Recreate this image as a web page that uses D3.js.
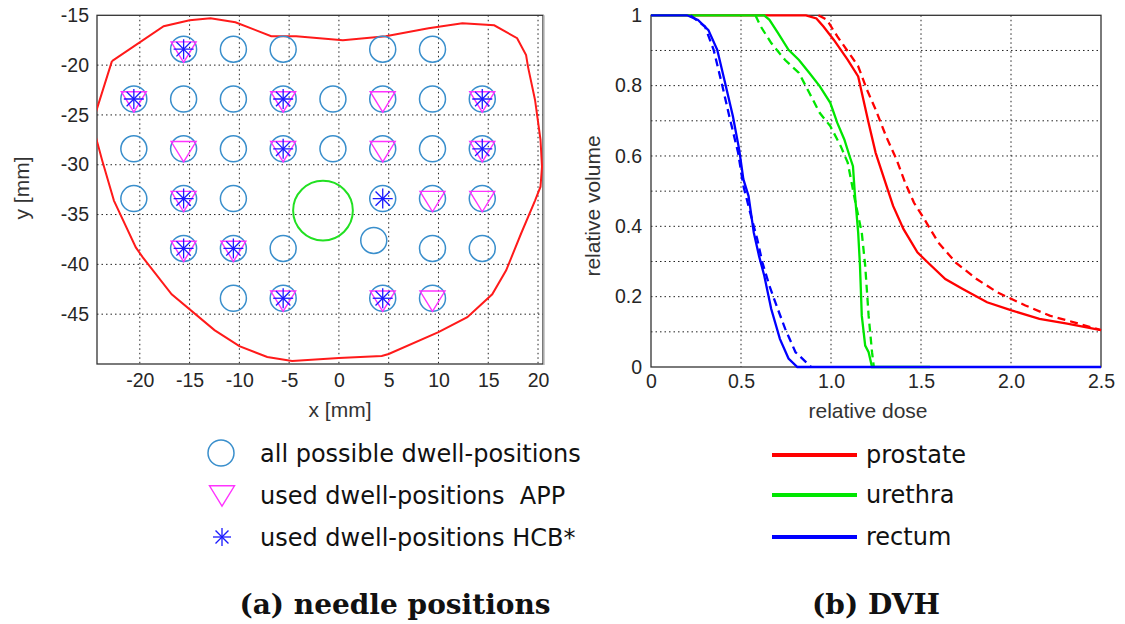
<!DOCTYPE html>
<html>
<head>
<meta charset="utf-8">
<script src="https://cdn.jsdelivr.net/npm/d3@7"></script>
<style>
  body { margin: 0; background: #fff; }
  .tick text { font-family: "Liberation Sans", Arial, sans-serif; font-size: 19.5px; fill: #262626; }
  .axlabel { font-family: "Liberation Sans", Arial, sans-serif; font-size: 21px; fill: #333; }
  .legtext { font-family: "DejaVu Sans", sans-serif; font-size: 24px; fill: #111; }
  .caption { font-family: "DejaVu Serif", serif; font-size: 28px; font-weight: bold; fill: #111; }
</style>
</head>
<body>
<div id="main"></div>
<script>
// ---- data: needle positions (mm) ----
const allPositions = [
  [-15.6,-18.4],[-10.6,-18.4],[-5.6,-18.4],[4.4,-18.4],[9.4,-18.4],
  [-20.6,-23.4],[-15.6,-23.4],[-10.6,-23.4],[-5.6,-23.4],[-0.6,-23.4],[4.4,-23.4],[9.4,-23.4],[14.4,-23.4],
  [-20.6,-28.4],[-15.6,-28.4],[-10.6,-28.4],[-5.6,-28.4],[-0.6,-28.4],[4.4,-28.4],[9.4,-28.4],[14.4,-28.4],
  [-20.6,-33.4],[-15.6,-33.4],[-10.6,-33.4],[4.4,-33.4],[9.4,-33.4],[14.4,-33.4],
  [-15.6,-38.4],[-10.6,-38.4],[-5.6,-38.4],[3.5,-37.6],[9.4,-38.4],[14.4,-38.4],
  [-10.6,-43.4],[-5.6,-43.4],[4.4,-43.4],[9.4,-43.4]
];
const appPositions = [
  [-15.6,-18.4],[-20.6,-23.4],[-5.6,-23.4],[4.4,-23.4],[14.4,-23.4],
  [-15.6,-28.4],[-5.6,-28.4],[4.4,-28.4],[14.4,-28.4],
  [-15.6,-33.4],[9.4,-33.4],[14.4,-33.4],
  [-15.6,-38.4],[-10.6,-38.4],
  [-5.6,-43.4],[4.4,-43.4],[9.4,-43.4]
];
const hcbPositions = [
  [-15.6,-18.4],[-20.6,-23.4],[-5.6,-23.4],[14.4,-23.4],
  [-5.6,-28.4],[14.4,-28.4],
  [-15.6,-33.4],[4.4,-33.4],
  [-15.6,-38.4],[-10.6,-38.4],
  [-5.6,-43.4],[4.4,-43.4]
];
// urethra cross-section: centre and radius (mm)
const urethraCircle = {x: -1.6, y: -34.6, r: 3.0};
// prostate contour (mm)
const prostateContour = [
  [-22.8,-19.6],[-17.6,-16.1],[-15.0,-15.5],[-12.9,-15.3],[-10.4,-15.7],[-6.8,-17.1],[-4.3,-17.1],
  [0.4,-17.5],[4.7,-17.1],[9.0,-16.3],[12.4,-15.8],[15.6,-16.0],[17.9,-17.3],[18.8,-19.0],[19.0,-20.2],
  [19.7,-23.5],[20.25,-27.5],[20.4,-30.2],[20.25,-32.2],[19.7,-33.6],[18.3,-36.9],[16.8,-40.6],
  [15.4,-43.0],[12.9,-45.3],[10.0,-46.8],[5.0,-49.0],[4.3,-49.2],[0.0,-49.4],[-4.7,-49.7],
  [-7.2,-49.3],[-10.0,-48.2],[-12.5,-46.6],[-16.8,-43.0],[-19.7,-39.3],[-20.4,-38.3],[-22.6,-33.6],
  [-23.8,-29.5],[-24.5,-26.9],[-24.5,-25.0],[-22.8,-19.6]
];
const needleXTicks = [-20,-15,-10,-5,0,5,10,15,20];
const needleYTicks = [-45,-40,-35,-30,-25,-20,-15];

// ---- data: DVH (relative dose, relative volume) ----
const prostateSolid = [
  [0,1],[0.861,1],[0.919,0.991],[0.958,0.968],[1.016,0.930],[1.093,0.873],[1.151,0.826],[1.180,0.760],
  [1.209,0.694],[1.248,0.609],[1.296,0.534],[1.345,0.458],[1.403,0.392],[1.480,0.326],[1.538,0.297],
  [1.635,0.250],[1.732,0.222],[1.867,0.184],[2.003,0.161],[2.158,0.137],[2.312,0.123],[2.5,0.105]
];
const prostateDashed = [
  [0.93,1],[0.977,0.987],[1.035,0.940],[1.113,0.883],[1.151,0.855],[1.200,0.788],[1.248,0.732],
  [1.306,0.656],[1.364,0.590],[1.412,0.524],[1.461,0.467],[1.519,0.420],[1.596,0.354],[1.693,0.297],
  [1.809,0.250],[1.925,0.212],[2.080,0.175],[2.215,0.146],[2.350,0.127],[2.5,0.105]
];
const urethraSolid = [
  [0,1],[0.629,1],[0.658,0.987],[0.706,0.949],[0.764,0.902],[0.822,0.873],[0.880,0.836],[0.938,0.798],
  [0.996,0.751],[1.035,0.694],[1.074,0.647],[1.103,0.600],[1.122,0.571],[1.132,0.496],[1.151,0.382],
  [1.161,0.288],[1.171,0.146],[1.190,0.061],[1.209,0.042],[1.228,0],[1.55,0]
];
const urethraDashed = [
  [0.58,1],[0.610,0.968],[0.668,0.921],[0.745,0.873],[0.822,0.836],[0.880,0.779],[0.938,0.722],
  [0.996,0.685],[1.054,0.628],[1.093,0.581],[1.132,0.477],[1.171,0.382],[1.190,0.288],[1.209,0.146],
  [1.228,0.042],[1.238,0]
];
const rectumSolid = [
  [0,1],[0.2,1],[0.261,0.987],[0.319,0.958],[0.368,0.902],[0.416,0.798],[0.455,0.713],[0.490,0.618],
  [0.513,0.534],[0.542,0.486],[0.571,0.382],[0.600,0.316],[0.629,0.260],[0.668,0.165],[0.716,0.080],
  [0.764,0.024],[0.813,0],[2.5,0]
];
const rectumDashed = [
  [0.22,1],[0.30,0.968],[0.348,0.902],[0.397,0.798],[0.435,0.713],[0.484,0.609],[0.513,0.515],
  [0.551,0.439],[0.590,0.364],[0.619,0.297],[0.658,0.231],[0.697,0.175],[0.745,0.109],[0.803,0.042],
  [0.861,0.014],[0.890,0]
];
const dvhXTicks = [0,0.5,1.0,1.5,2.0,2.5];
const dvhXTickLabels = ["0","0.5","1.0","1.5","2.0","2.5"];
const dvhYTicks = [0,0.2,0.4,0.6,0.8,1];
const dvhYGrid = [0.1,0.2,0.3,0.4,0.5,0.6,0.7,0.8,0.9];

const structures = ["prostate","urethra","rectum"];
const structureColors = ["#ff0000","#00e600","#0000ff"];
const legendLabels = ["all possible dwell-positions","used dwell-positions\u00a0 APP","used dwell-positions HCB*"];

const ctx = {
  width: 1125,
  height: 624,
  left: {x0: 97, x1: 543, y0: 15.3, y1: 364},
  right: {x0: 651, x1: 1101, y0: 15.3, y1: 367},
  gridDash: "1.5,3",
  circleColor: "#3a8fcc",
  triColor: "#ff33ff",
  starColor: "#1a1aff"
};

const svg = d3.select("#main").append("svg")
  .attr("width", ctx.width)
  .attr("height", ctx.height);

function trianglePath(cx, cy, s) {
  // downward triangle, top edge above centre
  return `M${cx - s},${cy - 0.58 * s}L${cx + s},${cy - 0.58 * s}L${cx},${cy + 1.05 * s}Z`;
}

function drawStar(g, cx, cy, r) {
  const d = r * 0.72;
  const segs = [[0,-r,0,r],[-r,0,r,0],[-d,-d,d,d],[-d,d,d,-d]];
  segs.forEach(s => {
    g.append("line")
      .attr("x1", cx + s[0]).attr("y1", cy + s[1])
      .attr("x2", cx + s[2]).attr("y2", cy + s[3])
      .attr("stroke", ctx.starColor).attr("stroke-width", 1.3);
  });
}

function drawNeedlePlot() {
  const b = ctx.left;
  const x = d3.scaleLinear().domain([-24.3, 20.5]).range([b.x0, b.x1]);
  const y = d3.scaleLinear().domain([-50, -15]).range([b.y1, b.y0]);
  const g = svg.append("g");

  g.append("clipPath").attr("id", "clipL").append("rect")
    .attr("x", b.x0).attr("y", b.y0).attr("width", b.x1 - b.x0).attr("height", b.y1 - b.y0);

  // grid
  g.selectAll(".gx").data(needleXTicks).enter().append("line")
    .attr("x1", d => x(d)).attr("x2", d => x(d)).attr("y1", b.y0).attr("y2", b.y1)
    .attr("stroke", "#222").attr("stroke-dasharray", ctx.gridDash);
  g.selectAll(".gy").data(needleYTicks.filter(d => d > -50 && d < -15)).enter().append("line")
    .attr("y1", d => y(d)).attr("y2", d => y(d)).attr("x1", b.x0).attr("x2", b.x1)
    .attr("stroke", "#222").attr("stroke-dasharray", ctx.gridDash);

  // axes
  const xAxis = g.append("g").attr("transform", `translate(0,${b.y1})`)
    .call(d3.axisBottom(x).tickValues(needleXTicks).tickSize(0).tickPadding(9).tickFormat(d3.format("d")));
  const yAxis = g.append("g").attr("transform", `translate(${b.x0},0)`)
    .call(d3.axisLeft(y).tickValues(needleYTicks).tickSize(0).tickPadding(8).tickFormat(d3.format("d")));
  xAxis.select(".domain").remove();
  yAxis.select(".domain").remove();
  xAxis.selectAll("text").text(d => d < 0 ? "-" + Math.abs(d) : d);
  yAxis.selectAll("text").text(d => "-" + Math.abs(d));

  // frame
  g.append("rect").attr("x", b.x0).attr("y", b.y0).attr("width", b.x1 - b.x0).attr("height", b.y1 - b.y0)
    .attr("fill", "none").attr("stroke", "#333").attr("stroke-width", 1.3);
  g.append("line").attr("x1", b.x1 + 1).attr("x2", b.x1 + 1).attr("y1", b.y0).attr("y2", b.y1 + 1)
    .attr("stroke", "#bbb").attr("stroke-width", 1.5);

  const plot = g.append("g").attr("clip-path", "url(#clipL)");

  // prostate contour
  plot.append("path").datum(prostateContour)
    .attr("d", d3.line().x(d => x(d[0])).y(d => y(d[1])))
    .attr("fill", "none").attr("stroke", "#ff1a1a").attr("stroke-width", 2);

  // urethra
  plot.append("circle")
    .attr("cx", x(urethraCircle.x)).attr("cy", y(urethraCircle.y))
    .attr("r", x(urethraCircle.x + urethraCircle.r) - x(urethraCircle.x))
    .attr("fill", "none").attr("stroke", "#22e022").attr("stroke-width", 2);

  plot.selectAll(".pos").data(allPositions).enter().append("circle")
    .attr("cx", d => x(d[0])).attr("cy", d => y(d[1])).attr("r", 13)
    .attr("fill", "none").attr("stroke", ctx.circleColor).attr("stroke-width", 1.5);

  plot.selectAll(".app").data(appPositions).enter().append("path")
    .attr("d", d => trianglePath(x(d[0]), y(d[1]), 12.5))
    .attr("fill", "none").attr("stroke", ctx.triColor).attr("stroke-width", 1.4);

  hcbPositions.forEach(d => drawStar(plot, x(d[0]), y(d[1]), 10));

  // labels
  g.append("text").attr("class", "axlabel").attr("x", 340).attr("y", 417)
    .attr("text-anchor", "middle").text("x [mm]");
  g.append("text").attr("class", "axlabel")
    .attr("transform", `translate(29,188) rotate(-90)`)
    .attr("text-anchor", "middle").text("y [mm]");

  // legend
  const lg = svg.append("g");
  const rows = [453, 495, 537];
  lg.append("circle").attr("cx", 221).attr("cy", rows[0]).attr("r", 13)
    .attr("fill", "none").attr("stroke", ctx.circleColor).attr("stroke-width", 1.5);
  lg.append("path").attr("d", trianglePath(222, rows[1] - 2, 12.5))
    .attr("fill", "none").attr("stroke", ctx.triColor).attr("stroke-width", 1.4);
  drawStar(lg, 222, rows[2], 9);
  legendLabels.forEach((t, i) => {
    lg.append("text").attr("class", "legtext").attr("x", 260).attr("y", rows[i] + 9).text(t);
  });

  svg.append("text").attr("class", "caption").attr("x", 395).attr("y", 614)
    .attr("text-anchor", "middle").text("(a) needle positions");
}

function drawDVH() {
  const b = ctx.right;
  const x = d3.scaleLinear().domain([0, 2.5]).range([b.x0, b.x1]);
  const y = d3.scaleLinear().domain([0, 1]).range([b.y1, b.y0]);
  const g = svg.append("g");

  g.selectAll(".gx").data(dvhXTicks.slice(1, -1)).enter().append("line")
    .attr("x1", d => x(d)).attr("x2", d => x(d)).attr("y1", b.y0).attr("y2", b.y1)
    .attr("stroke", "#222").attr("stroke-dasharray", ctx.gridDash);
  g.selectAll(".gy").data(dvhYGrid).enter().append("line")
    .attr("y1", d => y(d)).attr("y2", d => y(d)).attr("x1", b.x0).attr("x2", b.x1)
    .attr("stroke", "#222").attr("stroke-dasharray", ctx.gridDash);

  const xAxis = g.append("g").attr("transform", `translate(0,${b.y1})`)
    .call(d3.axisBottom(x).tickValues(dvhXTicks).tickSize(0).tickPadding(7)
      .tickFormat((d, i) => dvhXTickLabels[i]));
  const yAxis = g.append("g").attr("transform", `translate(${b.x0},0)`)
    .call(d3.axisLeft(y).tickValues(dvhYTicks).tickSize(0).tickPadding(9).tickFormat(d3.format("")));
  xAxis.select(".domain").remove();
  yAxis.select(".domain").remove();

  g.append("rect").attr("x", b.x0).attr("y", b.y0).attr("width", b.x1 - b.x0).attr("height", b.y1 - b.y0)
    .attr("fill", "none").attr("stroke", "#333").attr("stroke-width", 1.3);

  const line = d3.line().x(d => x(d[0])).y(d => y(d[1]));
  const curves = [
    [prostateSolid, prostateDashed],
    [urethraSolid, urethraDashed],
    [rectumSolid, rectumDashed]
  ];
  curves.forEach((c, i) => {
    g.append("path").datum(c[0]).attr("d", line)
      .attr("fill", "none").attr("stroke", structureColors[i]).attr("stroke-width", 2.3);
    g.append("path").datum(c[1]).attr("d", line)
      .attr("fill", "none").attr("stroke", structureColors[i]).attr("stroke-width", 2.3)
      .attr("stroke-dasharray", "8,5");
  });

  g.append("text").attr("class", "axlabel").attr("x", 868).attr("y", 418)
    .attr("text-anchor", "middle").text("relative dose");
  g.append("text").attr("class", "axlabel")
    .attr("transform", `translate(600,206) rotate(-90)`)
    .attr("text-anchor", "middle").text("relative volume");

  // legend
  const rows = [455, 495, 537];
  structures.forEach((s, i) => {
    g.append("line").attr("x1", 772).attr("x2", 857).attr("y1", rows[i]).attr("y2", rows[i])
      .attr("stroke", structureColors[i]).attr("stroke-width", 4);
    g.append("text").attr("class", "legtext").attr("x", 866).attr("y", rows[i] + 8).text(s);
  });

  svg.append("text").attr("class", "caption").attr("x", 876).attr("y", 614)
    .attr("text-anchor", "middle").text("(b) DVH");
}

drawNeedlePlot();
drawDVH();
</script>
</body>
</html>
